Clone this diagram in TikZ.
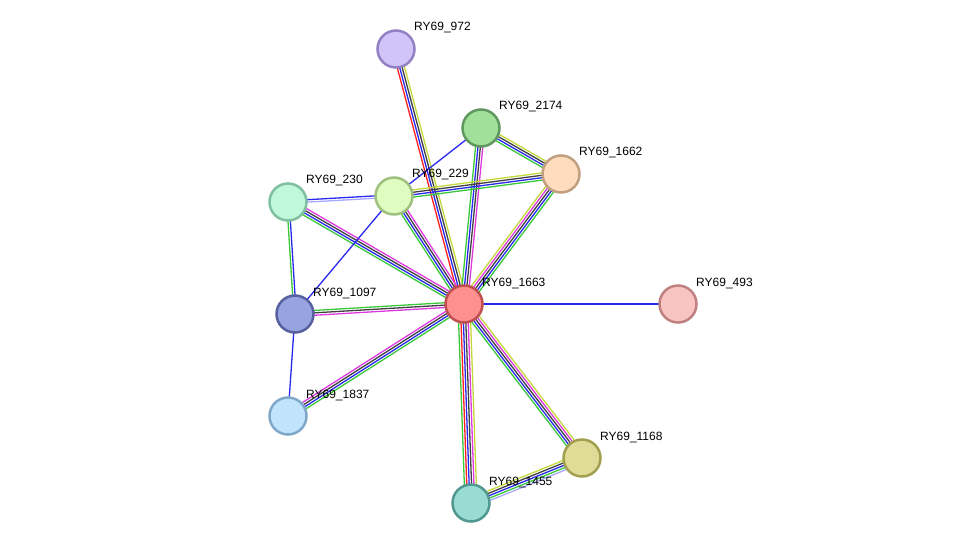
\documentclass[tikz,border=0pt]{standalone}
\usepackage{fontspec}
\setmainfont{Liberation Sans}
\usetikzlibrary{calc,backgrounds}

\definecolor{sred}{HTML}{FF2020}
\definecolor{sblue}{HTML}{2828F0}
\definecolor{sblack}{HTML}{404040}
\definecolor{syellow}{HTML}{C4D83A}
\definecolor{sgreen}{HTML}{38C838}
\definecolor{smagenta}{HTML}{E038E0}
\definecolor{slav}{HTML}{A8A8FF}

\tikzset{
prot/.style={circle, minimum size=37pt, inner sep=0pt, line width=2.5pt},
lbl/.style={anchor=west, font=\fontsize{12}{14}\selectfont, inner sep=0pt},
link/.style={line width=1.3pt},
}

% parallel evidence lines: from, to, number, colours
\newcommand{\strlink}[4]{%
\foreach \c [count=\i] in {#4} {
\pgfmathsetmacro{\off}{(\i-(#3+1)/2)*2.4}
\draw[link,\c] ($(#1)!\off pt!90:(#2)$) -- ($(#2)!\off pt!-90:(#1)$);
}}

\begin{document}
\begin{tikzpicture}[%
x=1pt, y=-1pt,
]
\useasboundingbox (0,0) rectangle (975,549);
%% node;
\node [prot, fill={rgb,255:red,208;green,196;blue,248}, draw={rgb,255:red,148;green,128;blue,196}] (n972) at (396,49) {};
\node [prot, fill={rgb,255:red,160;green,224;blue,152}, draw={rgb,255:red,96;green,152;blue,96}] (n2174) at (481,128) {};
\node [prot, fill={rgb,255:red,253;green,221;blue,190}, draw={rgb,255:red,192;green,160;blue,128}] (n1662) at (561,174) {};
\node [prot, fill={rgb,255:red,192;green,248;blue,220}, draw={rgb,255:red,128;green,192;blue,160}] (n230) at (288,202) {};
\node [prot, fill={rgb,255:red,224;green,252;blue,192}, draw={rgb,255:red,160;green,192;blue,128}] (n229) at (394,196) {};
\node [prot, fill={rgb,255:red,255;green,144;blue,144}, draw={rgb,255:red,192;green,80;blue,80}] (n1663) at (464,304) {};
\node [prot, fill={rgb,255:red,248;green,196;blue,196}, draw={rgb,255:red,192;green,128;blue,128}] (n493) at (678,304) {};
\node [prot, fill={rgb,255:red,152;green,164;blue,224}, draw={rgb,255:red,88;green,96;blue,160}] (n1097) at (295,314) {};
\node [prot, fill={rgb,255:red,192;green,228;blue,252}, draw={rgb,255:red,128;green,168;blue,200}] (n1837) at (288,416) {};
\node [prot, fill={rgb,255:red,224;green,220;blue,152}, draw={rgb,255:red,160;green,160;blue,80}] (n1168) at (582,458) {};
\node [prot, fill={rgb,255:red,152;green,220;blue,212}, draw={rgb,255:red,80;green,152;blue,144}] (n1455) at (471,503) {};
%% link;
\begin{pgfonlayer}{background}
\strlink{n972}{n1663}{4}{sred,sblue,sblack,syellow}
\strlink{n2174}{n1663}{4}{sgreen,sblue,sblack,smagenta}
\strlink{n2174}{n1662}{4}{sgreen,sblue,sblack,syellow}
\strlink{n2174}{n229}{1}{sblue}
\strlink{n229}{n1662}{4}{sgreen,sblue,sblack,syellow}
\strlink{n230}{n229}{2}{slav,sblue}
\strlink{n230}{n1663}{4}{sgreen,sblue,sblack,smagenta}
\strlink{n230}{n1097}{2}{sgreen,sblue}
\strlink{n229}{n1663}{4}{sgreen,sblue,sblack,smagenta}
\strlink{n229}{n1097}{1}{sblue}
\strlink{n1097}{n1663}{3}{smagenta,sblack,sgreen}
\strlink{n1097}{n1837}{1}{sblue}
\strlink{n1837}{n1663}{4}{sgreen,sblue,sblack,smagenta}
\strlink{n1663}{n493}{1}{sblue}
\strlink{n1663}{n1168}{5}{sgreen,sblue,sblack,smagenta,syellow}
\strlink{n1663}{n1455}{6}{sgreen,sred,sblue,sblack,smagenta,syellow}
\strlink{n1455}{n1168}{5}{slav,sgreen,sblue,sblack,syellow}
\strlink{n1662}{n1663}{5}{syellow,smagenta,sblack,sblue,sgreen}
\end{pgfonlayer}
%% label;
\node [lbl] (t972) at ($(n972)+(18,-21)$) {RY69\_972};
\node [lbl] (t2174) at ($(n2174)+(18,-21)$) {RY69\_2174};
\node [lbl] (t1662) at ($(n1662)+(18,-21)$) {RY69\_1662};
\node [lbl] (t230) at ($(n230)+(18,-21)$) {RY69\_230};
\node [lbl] (t229) at ($(n229)+(18,-21)$) {RY69\_229};
\node [lbl] (t1663) at ($(n1663)+(18,-21)$) {RY69\_1663};
\node [lbl] (t493) at ($(n493)+(18,-21)$) {RY69\_493};
\node [lbl] (t1097) at ($(n1097)+(18,-21)$) {RY69\_1097};
\node [lbl] (t1837) at ($(n1837)+(18,-21)$) {RY69\_1837};
\node [lbl] (t1168) at ($(n1168)+(18,-21)$) {RY69\_1168};
\node [lbl] (t1455) at ($(n1455)+(18,-21)$) {RY69\_1455};
\end{tikzpicture}
\end{document}
